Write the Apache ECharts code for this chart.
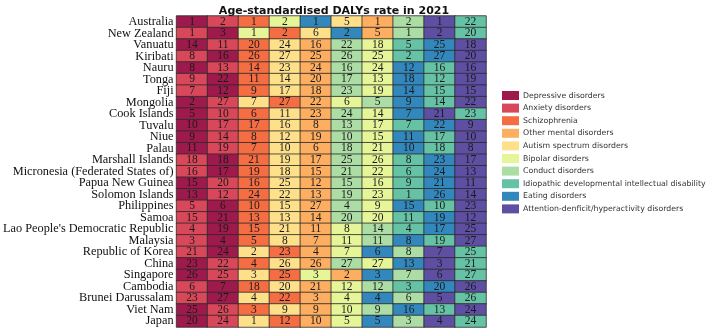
<!DOCTYPE html>
<html>
<head>
<meta charset="utf-8">
<script src="https://cdn.jsdelivr.net/npm/echarts@6/dist/echarts.min.js"></script>
<style>html,body{margin:0;padding:0;background:#fff;}#c{width:714px;height:331px;}</style>
</head>
<body>
<div id="c"></div>
<script>
const titleText = 'Age-standardised DALYs rate in 2021';
const countries = ['Australia','New Zealand','Vanuatu','Kiribati','Nauru','Tonga','Fiji','Mongolia','Cook Islands','Tuvalu','Niue','Palau','Marshall Islands','Micronesia (Federated States of)','Papua New Guinea','Solomon Islands','Philippines','Samoa',"Lao People's Democratic Republic",'Malaysia','Republic of Korea','China','Singapore','Cambodia','Brunei Darussalam','Viet Nam','Japan'];
const disorders = ['Depressive disorders','Anxiety disorders','Schizophrenia','Other mental disorders','Autism spectrum disorders','Bipolar disorders','Conduct disorders','Idiopathic developmental intellectual disability','Eating disorders','Attention-denficit/hyperactivity disorders'];
const disorderColors = ['#9e1a4c','#d8475a','#f46d43','#fdae61','#fee08b','#e6f598','#abdda4','#66c2a5','#3288bd','#5e4fa2'];
// disorder index shown in each of the 10 positions, per country
const cellDisorder = [
  [0,1,2,5,8,4,3,6,9,7],
  [1,0,5,2,4,8,3,6,9,7],
  [0,1,2,4,3,6,5,7,8,9],
  [1,0,2,4,3,6,5,7,8,9],
  [0,1,2,4,3,6,5,8,7,9],
  [1,0,2,4,3,6,5,8,7,9],
  [1,0,2,4,3,6,5,8,7,9],
  [0,1,4,2,3,5,6,8,7,9],
  [0,1,2,4,3,6,5,8,9,7],
  [0,1,2,4,3,6,5,7,8,9],
  [0,1,2,4,3,6,5,8,7,9],
  [0,1,2,4,3,6,5,8,7,9],
  [1,0,2,4,3,6,5,7,8,9],
  [1,0,2,4,3,6,5,7,8,9],
  [0,1,2,4,3,6,5,7,8,9],
  [0,1,2,4,3,6,5,7,8,9],
  [1,0,2,4,3,6,5,8,7,9],
  [1,0,2,4,3,6,5,7,8,9],
  [1,0,2,4,3,5,6,7,8,9],
  [1,0,2,4,3,5,6,8,7,9],
  [1,0,4,2,3,5,8,6,9,7],
  [0,1,2,4,3,6,5,8,9,7],
  [0,1,4,2,5,3,8,6,9,7],
  [1,0,2,4,3,5,6,7,8,9],
  [1,0,4,2,3,5,8,6,9,7],
  [0,1,2,4,3,5,6,8,7,9],
  [0,1,4,2,3,5,8,6,9,7]
];
// rank shown in each cell, per country
const cellRank = [
  [1,2,1,2,1,5,1,2,1,22],
  [1,3,1,2,6,2,5,1,2,20],
  [14,11,20,24,16,22,18,5,25,18],
  [8,16,26,27,25,26,25,2,27,20],
  [8,13,14,23,24,16,24,12,16,16],
  [9,22,11,14,20,17,13,18,12,19],
  [7,12,9,17,18,23,19,14,15,15],
  [2,27,7,27,22,6,5,9,14,22],
  [5,10,6,11,23,24,14,7,21,23],
  [10,17,17,16,8,13,17,7,22,9],
  [9,14,8,12,19,10,15,11,17,10],
  [11,19,7,10,6,18,21,10,18,8],
  [18,18,21,19,17,25,26,8,23,17],
  [16,17,19,18,15,21,22,6,24,13],
  [15,20,16,25,12,15,16,9,21,11],
  [13,12,24,22,13,19,23,1,26,14],
  [5,6,10,15,27,4,9,15,10,23],
  [15,21,13,13,14,20,20,11,19,12],
  [4,19,15,21,11,8,14,4,17,25],
  [3,4,5,8,7,11,11,8,19,27],
  [21,24,2,23,4,7,6,8,7,25],
  [23,22,4,26,26,27,27,13,3,21],
  [26,25,3,25,3,2,3,7,6,27],
  [6,7,18,20,21,12,12,3,20,26],
  [23,27,4,22,3,4,4,6,5,26],
  [25,26,3,9,9,10,9,16,13,24],
  [20,24,1,12,10,5,5,3,4,24]
];
const positions = ['1','2','3','4','5','6','7','8','9','10'];

const data = [];
countries.forEach((c, r) => {
  positions.forEach((p, k) => {
    data.push([k, r, cellDisorder[r][k], cellRank[r][k]]);
  });
});

const chart = echarts.init(document.getElementById('c'), null, {renderer: 'canvas'});
chart.setOption({
  animation: false,
  backgroundColor: '#fff',
  title: {
    text: titleText,
    left: 329, textAlign: 'center', top: 1,
    textStyle: {fontFamily: 'DejaVu Sans', fontSize: 11, fontWeight: 'bold', color: '#111'}
  },
  grid: {left: 171, top: 16, width: 315, height: 311},
  xAxis: {type: 'category', data: positions, show: false},
  yAxis: {
    type: 'category', data: countries, inverse: true,
    axisLine: {show: false}, axisTick: {show: false}, splitLine: {show: false},
    axisLabel: {interval: 0, margin: 3, fontFamily: 'Liberation Serif', fontSize: 12.3, color: '#111'}
  },
  visualMap: {
    type: 'piecewise', dimension: 2, seriesIndex: 0,
    orient: 'vertical', inverse: true, align: 'left',
    left: 502, top: 91, padding: 0,
    itemWidth: 17, itemHeight: 9, itemGap: 3.6, textGap: 4,
    itemSymbol: 'rect', selectedMode: false, hoverLink: false,
    textStyle: {fontFamily: 'DejaVu Sans', fontSize: 7.8, color: '#333'},
    pieces: disorders.map((d, i) => ({value: i, label: d, color: disorderColors[i]}))
  },
  series: [{
    type: 'heatmap',
    data: data,
    itemStyle: {borderColor: '#2a2a2a', borderWidth: 0.8},
    label: {
      show: true,
      formatter: p => String(p.value[3]),
      fontFamily: 'Liberation Serif', fontSize: 11.5, color: '#1a1a1a'
    },
    emphasis: {disabled: true}
  }]
});
</script>
</body>
</html>
